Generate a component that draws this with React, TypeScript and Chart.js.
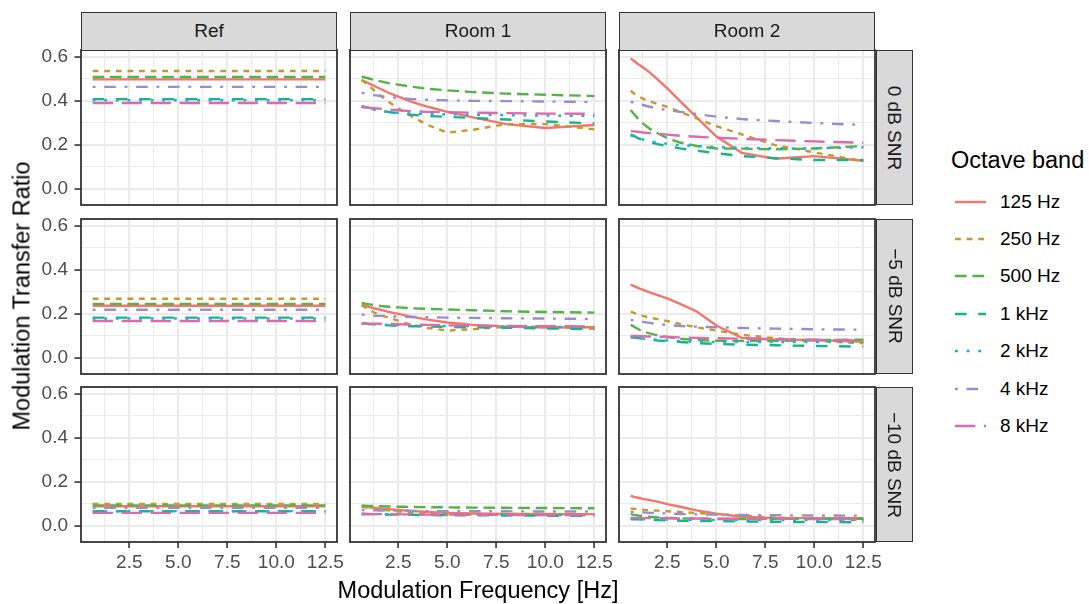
import React, { useEffect, useRef } from "react";
import { Chart, registerables } from "chart.js";
Chart.register(...registerables);

// ---------- data ----------
const FREQS = [0.63, 0.8, 1, 1.25, 1.6, 2, 2.5, 3.15, 4, 5, 6.3, 8, 10, 12.5];
const BANDS = ["125 Hz", "250 Hz", "500 Hz", "1 kHz", "2 kHz", "4 kHz", "8 kHz"];
const ROOMS = ["Ref", "Room 1", "Room 2"];
const SNRS = ["0 dB SNR", "\u22125 dB SNR", "\u221210 dB SNR"];
const X_TICKS = [2.5, 5, 7.5, 10, 12.5];
const X_MINOR = [1.25, 3.75, 6.25, 8.75, 11.25];
const Y_TICKS = [0, 0.2, 0.4, 0.6];
const Y_MINOR = [0.1, 0.3, 0.5];

const REF_0DB = [
  [0.498, 0.498, 0.498, 0.498, 0.498, 0.498, 0.498, 0.498, 0.498, 0.498, 0.498, 0.498, 0.498, 0.498],
  [0.536, 0.536, 0.536, 0.536, 0.536, 0.536, 0.536, 0.536, 0.536, 0.536, 0.536, 0.536, 0.536, 0.536],
  [0.509, 0.509, 0.509, 0.509, 0.509, 0.509, 0.509, 0.509, 0.509, 0.509, 0.509, 0.509, 0.509, 0.509],
  [0.408, 0.408, 0.408, 0.408, 0.408, 0.408, 0.408, 0.408, 0.408, 0.408, 0.408, 0.408, 0.408, 0.408],
  [0.403, 0.403, 0.403, 0.403, 0.403, 0.403, 0.403, 0.403, 0.403, 0.403, 0.403, 0.403, 0.403, 0.403],
  [0.464, 0.464, 0.464, 0.464, 0.464, 0.464, 0.464, 0.464, 0.464, 0.464, 0.464, 0.464, 0.464, 0.464],
  [0.390, 0.390, 0.390, 0.390, 0.390, 0.390, 0.390, 0.390, 0.390, 0.390, 0.390, 0.390, 0.390, 0.390],
];
const REF_M5DB = [
  [0.236, 0.236, 0.236, 0.236, 0.236, 0.236, 0.236, 0.236, 0.236, 0.236, 0.236, 0.236, 0.236, 0.236],
  [0.268, 0.268, 0.268, 0.268, 0.268, 0.268, 0.268, 0.268, 0.268, 0.268, 0.268, 0.268, 0.268, 0.268],
  [0.245, 0.245, 0.245, 0.245, 0.245, 0.245, 0.245, 0.245, 0.245, 0.245, 0.245, 0.245, 0.245, 0.245],
  [0.182, 0.182, 0.182, 0.182, 0.182, 0.182, 0.182, 0.182, 0.182, 0.182, 0.182, 0.182, 0.182, 0.182],
  [0.178, 0.178, 0.178, 0.178, 0.178, 0.178, 0.178, 0.178, 0.178, 0.178, 0.178, 0.178, 0.178, 0.178],
  [0.218, 0.218, 0.218, 0.218, 0.218, 0.218, 0.218, 0.218, 0.218, 0.218, 0.218, 0.218, 0.218, 0.218],
  [0.167, 0.167, 0.167, 0.167, 0.167, 0.167, 0.167, 0.167, 0.167, 0.167, 0.167, 0.167, 0.167, 0.167],
];
const REF_M10DB = [
  [0.088, 0.088, 0.088, 0.088, 0.088, 0.088, 0.088, 0.088, 0.088, 0.088, 0.088, 0.088, 0.088, 0.088],
  [0.099, 0.099, 0.099, 0.099, 0.099, 0.099, 0.099, 0.099, 0.099, 0.099, 0.099, 0.099, 0.099, 0.099],
  [0.092, 0.092, 0.092, 0.092, 0.092, 0.092, 0.092, 0.092, 0.092, 0.092, 0.092, 0.092, 0.092, 0.092],
  [0.065, 0.065, 0.065, 0.065, 0.065, 0.065, 0.065, 0.065, 0.065, 0.065, 0.065, 0.065, 0.065, 0.065],
  [0.066, 0.066, 0.066, 0.066, 0.066, 0.066, 0.066, 0.066, 0.066, 0.066, 0.066, 0.066, 0.066, 0.066],
  [0.081, 0.081, 0.081, 0.081, 0.081, 0.081, 0.081, 0.081, 0.081, 0.081, 0.081, 0.081, 0.081, 0.081],
  [0.058, 0.058, 0.058, 0.058, 0.058, 0.058, 0.058, 0.058, 0.058, 0.058, 0.058, 0.058, 0.058, 0.058],
];

const ROOM1_0DB = [
  [0.495, 0.488, 0.480, 0.469, 0.454, 0.437, 0.419, 0.396, 0.373, 0.350, 0.325, 0.294, 0.276, 0.290],
  [0.497, 0.483, 0.469, 0.449, 0.423, 0.396, 0.366, 0.331, 0.290, 0.255, 0.268, 0.294, 0.294, 0.270],
  [0.510, 0.507, 0.502, 0.496, 0.489, 0.481, 0.474, 0.465, 0.455, 0.448, 0.440, 0.433, 0.428, 0.422],
  [0.376, 0.372, 0.368, 0.362, 0.355, 0.349, 0.343, 0.337, 0.331, 0.327, 0.322, 0.315, 0.306, 0.297],
  [0.373, 0.370, 0.366, 0.360, 0.354, 0.349, 0.345, 0.342, 0.340, 0.339, 0.337, 0.335, 0.333, 0.331],
  [0.437, 0.434, 0.431, 0.426, 0.422, 0.417, 0.413, 0.408, 0.405, 0.402, 0.400, 0.399, 0.397, 0.395],
  [0.372, 0.371, 0.369, 0.367, 0.364, 0.360, 0.357, 0.353, 0.350, 0.348, 0.346, 0.344, 0.342, 0.341],
];
const ROOM1_M5DB = [
  [0.240, 0.235, 0.231, 0.225, 0.218, 0.208, 0.199, 0.187, 0.173, 0.160, 0.149, 0.141, 0.137, 0.138],
  [0.240, 0.229, 0.219, 0.206, 0.194, 0.182, 0.168, 0.150, 0.135, 0.123, 0.129, 0.141, 0.141, 0.131],
  [0.249, 0.246, 0.243, 0.240, 0.235, 0.232, 0.229, 0.225, 0.222, 0.219, 0.216, 0.211, 0.208, 0.205],
  [0.156, 0.155, 0.153, 0.151, 0.149, 0.147, 0.145, 0.143, 0.142, 0.140, 0.138, 0.136, 0.133, 0.129],
  [0.156, 0.155, 0.154, 0.152, 0.150, 0.149, 0.148, 0.146, 0.145, 0.144, 0.143, 0.141, 0.140, 0.139],
  [0.196, 0.195, 0.193, 0.191, 0.190, 0.188, 0.187, 0.185, 0.184, 0.182, 0.181, 0.179, 0.178, 0.176],
  [0.156, 0.156, 0.155, 0.155, 0.154, 0.153, 0.152, 0.150, 0.149, 0.147, 0.146, 0.144, 0.143, 0.142],
];
const ROOM1_M10DB = [
  [0.086, 0.085, 0.083, 0.081, 0.078, 0.075, 0.071, 0.067, 0.062, 0.058, 0.055, 0.053, 0.052, 0.052],
  [0.086, 0.083, 0.080, 0.077, 0.073, 0.069, 0.064, 0.058, 0.052, 0.048, 0.050, 0.053, 0.053, 0.051],
  [0.092, 0.091, 0.090, 0.089, 0.088, 0.087, 0.086, 0.085, 0.084, 0.083, 0.082, 0.081, 0.080, 0.079],
  [0.053, 0.053, 0.052, 0.052, 0.051, 0.050, 0.050, 0.049, 0.048, 0.047, 0.047, 0.046, 0.045, 0.044],
  [0.053, 0.053, 0.053, 0.052, 0.052, 0.051, 0.051, 0.050, 0.050, 0.049, 0.049, 0.049, 0.048, 0.048],
  [0.071, 0.071, 0.070, 0.070, 0.069, 0.068, 0.068, 0.067, 0.066, 0.066, 0.065, 0.065, 0.064, 0.064],
  [0.053, 0.053, 0.053, 0.052, 0.052, 0.052, 0.051, 0.051, 0.050, 0.050, 0.049, 0.049, 0.048, 0.048],
];

const ROOM2_0DB = [
  [0.594, 0.582, 0.568, 0.553, 0.530, 0.498, 0.457, 0.399, 0.325, 0.237, 0.163, 0.136, 0.148, 0.127],
  [0.446, 0.434, 0.422, 0.410, 0.398, 0.386, 0.373, 0.350, 0.320, 0.285, 0.247, 0.198, 0.165, 0.125],
  [0.358, 0.340, 0.319, 0.297, 0.273, 0.252, 0.230, 0.210, 0.194, 0.183, 0.182, 0.179, 0.183, 0.194],
  [0.247, 0.240, 0.230, 0.221, 0.212, 0.203, 0.194, 0.183, 0.173, 0.161, 0.148, 0.139, 0.130, 0.130],
  [0.244, 0.236, 0.230, 0.224, 0.216, 0.210, 0.204, 0.198, 0.194, 0.189, 0.186, 0.183, 0.183, 0.188],
  [0.396, 0.392, 0.387, 0.381, 0.373, 0.366, 0.358, 0.350, 0.340, 0.328, 0.317, 0.308, 0.299, 0.290],
  [0.262, 0.261, 0.259, 0.256, 0.253, 0.250, 0.246, 0.241, 0.236, 0.232, 0.227, 0.221, 0.215, 0.209],
];
const ROOM2_M5DB = [
  [0.333, 0.326, 0.318, 0.309, 0.297, 0.285, 0.270, 0.245, 0.210, 0.146, 0.090, 0.082, 0.080, 0.072],
  [0.210, 0.204, 0.198, 0.190, 0.182, 0.175, 0.166, 0.153, 0.138, 0.123, 0.104, 0.088, 0.077, 0.065],
  [0.150, 0.141, 0.130, 0.119, 0.110, 0.101, 0.094, 0.086, 0.080, 0.077, 0.076, 0.076, 0.079, 0.082],
  [0.093, 0.091, 0.089, 0.086, 0.082, 0.078, 0.075, 0.071, 0.066, 0.062, 0.059, 0.056, 0.053, 0.050],
  [0.093, 0.091, 0.089, 0.087, 0.084, 0.081, 0.078, 0.075, 0.072, 0.071, 0.071, 0.071, 0.071, 0.072],
  [0.172, 0.169, 0.166, 0.163, 0.158, 0.153, 0.149, 0.144, 0.141, 0.138, 0.135, 0.132, 0.129, 0.127],
  [0.099, 0.099, 0.098, 0.097, 0.096, 0.095, 0.094, 0.092, 0.090, 0.088, 0.086, 0.084, 0.081, 0.078],
];
const ROOM2_M10DB = [
  [0.136, 0.131, 0.127, 0.122, 0.116, 0.109, 0.098, 0.086, 0.069, 0.054, 0.040, 0.034, 0.034, 0.033],
  [0.078, 0.076, 0.074, 0.072, 0.070, 0.068, 0.065, 0.062, 0.057, 0.052, 0.045, 0.037, 0.031, 0.025],
  [0.052, 0.049, 0.046, 0.043, 0.040, 0.037, 0.035, 0.033, 0.031, 0.030, 0.030, 0.030, 0.031, 0.031],
  [0.030, 0.029, 0.028, 0.027, 0.026, 0.025, 0.024, 0.022, 0.021, 0.020, 0.019, 0.017, 0.016, 0.015],
  [0.030, 0.030, 0.029, 0.029, 0.028, 0.028, 0.027, 0.027, 0.026, 0.026, 0.026, 0.025, 0.025, 0.025],
  [0.063, 0.062, 0.061, 0.060, 0.058, 0.057, 0.055, 0.053, 0.051, 0.050, 0.048, 0.047, 0.046, 0.045],
  [0.035, 0.035, 0.034, 0.034, 0.034, 0.033, 0.033, 0.032, 0.032, 0.031, 0.031, 0.031, 0.030, 0.030],
];

// rows = SNR, cols = room
const PANELS = [
  [REF_0DB, ROOM1_0DB, ROOM2_0DB],
  [REF_M5DB, ROOM1_M5DB, ROOM2_M5DB],
  [REF_M10DB, ROOM1_M10DB, ROOM2_M10DB],
];

// ---------- styles ----------
const COLORS = ["#F5756C", "#C6992B", "#52B346", "#18B38A", "#12B2E2", "#9D8CCB", "#DB6BAD"];
const U = 2.9;
const DASHES = [[], [2 * U, 2 * U], [4 * U, 2 * U], [4 * U, 4 * U], [1 * U, 3 * U], [1 * U, 3 * U, 4 * U, 3 * U], [7 * U, 3 * U]];
const LINE_W = 2.4;
const FONT = "'Liberation Sans', Arial, Helvetica, sans-serif";
const SMALL = 19;
const BIG = 23.5;

const X_MIN = 0.036, X_MAX = 13.094;
const Y_MIN = -0.075, Y_MAX = 0.632;

const COL_LEFT = [81, 350, 619];
const ROW_TOP = [50, 218.5, 387];
const PW = 256;
const PH = 155;

const near = (a: number, list: number[]) => list.some((t) => Math.abs(t - a) < 1e-9);

const borderPlugin = {
  id: "panelBorder",
  afterDraw(chart: any) {
    const { ctx, chartArea: a } = chart;
    ctx.save();
    ctx.strokeStyle = "#333333";
    ctx.lineWidth = 1.8;
    ctx.strokeRect(a.left, a.top, a.right - a.left, a.bottom - a.top);
    ctx.restore();
  },
};

function Panel({ row, col }: { row: number; col: number }) {
  const ref = useRef<HTMLCanvasElement>(null);
  const ML = col === 0 ? 80 : 2;
  const MB = row === 2 ? 42 : 2;
  const MT = 2;
  const MR = 14;
  const W = ML + PW + MR;
  const H = MT + PH + MB;
  useEffect(() => {
    if (!ref.current) return;
    const data = PANELS[row][col];
    const chart = new Chart(ref.current, {
      type: "line",
      data: {
        datasets: BANDS.map((b, i) => ({
          label: b,
          data: FREQS.map((x, j) => ({ x, y: data[i][j] })),
          borderColor: COLORS[i],
          backgroundColor: COLORS[i],
          borderWidth: LINE_W,
          borderDash: DASHES[i],
          borderCapStyle: "butt",
          pointRadius: 0,
          fill: false,
          tension: 0,
          order: BANDS.length - i,
        })),
      },
      options: {
        animation: false,
        responsive: false,
        maintainAspectRatio: false,
        devicePixelRatio: 1,
        events: [],
        layout: { padding: { left: 0, top: MT, right: MR, bottom: 0 } },
        plugins: { legend: { display: false }, tooltip: { enabled: false } },
        scales: {
          x: {
            type: "linear",
            min: X_MIN,
            max: X_MAX,
            afterBuildTicks: (s: any) => {
              s.ticks = [...X_MINOR, ...X_TICKS].sort((a, b) => a - b).map((v) => ({ value: v }));
            },
            afterFit: (s: any) => {
              s.height = MB;
              s.paddingLeft = 0;
              s.paddingRight = 0;
            },
            border: { display: false },
            grid: {
              color: "#EBEBEB",
              lineWidth: (c: any) => (c.tick && near(c.tick.value, X_TICKS) ? 2.1 : 1.05),
              drawTicks: row === 2,
              tickLength: 6,
              tickWidth: 1.6,
              tickColor: (c: any) => (c.tick && near(c.tick.value, X_TICKS) ? "#333333" : "rgba(0,0,0,0)"),
            },
            ticks: {
              display: row === 2,
              autoSkip: false,
              maxRotation: 0,
              minRotation: 0,
              padding: 3,
              color: "#4D4D4D",
              font: { family: FONT, size: SMALL },
              callback: (v: any) => (near(Number(v), X_TICKS) ? Number(v).toFixed(1) : ""),
            },
          },
          y: {
            type: "linear",
            min: Y_MIN,
            max: Y_MAX,
            afterBuildTicks: (s: any) => {
              s.ticks = [...Y_MINOR, ...Y_TICKS].sort((a, b) => a - b).map((v) => ({ value: v }));
            },
            afterFit: (s: any) => {
              s.width = ML;
              s.paddingTop = 0;
              s.paddingBottom = 0;
            },
            border: { display: false },
            grid: {
              color: "#EBEBEB",
              lineWidth: (c: any) => (c.tick && near(c.tick.value, Y_TICKS) ? 2.1 : 1.05),
              drawTicks: col === 0,
              tickLength: 6.5,
              tickWidth: 1.6,
              tickColor: (c: any) => (c.tick && near(c.tick.value, Y_TICKS) ? "#333333" : "rgba(0,0,0,0)"),
            },
            ticks: {
              display: col === 0,
              autoSkip: false,
              padding: 6.5,
              color: "#4D4D4D",
              font: { family: FONT, size: SMALL },
              callback: (v: any) => (near(Number(v), Y_TICKS) ? Number(v).toFixed(1) : ""),
            },
          },
        },
      },
      plugins: [borderPlugin],
    } as any);
    return () => chart.destroy();
  }, []);
  return (
    <canvas
      ref={ref}
      width={W}
      height={H}
      style={{ position: "absolute", left: COL_LEFT[col] - ML, top: ROW_TOP[row] - MT, width: W, height: H }}
    />
  );
}

const stripStyle: React.CSSProperties = {
  position: "absolute",
  boxSizing: "border-box",
  background: "#D9D9D9",
  border: "1.8px solid #333333",
  display: "flex",
  alignItems: "center",
  justifyContent: "center",
  color: "#1A1A1A",
  fontFamily: FONT,
  fontSize: SMALL,
  whiteSpace: "nowrap",
};

function LegendKey({ i }: { i: number }) {
  return (
    <svg width={32} height={10} style={{ position: "absolute", left: 955, top: 201.5 + i * 37.4 - 5 }}>
      <line
        x1={0}
        y1={5}
        x2={31}
        y2={5}
        stroke={COLORS[i]}
        strokeWidth={LINE_W}
        strokeDasharray={DASHES[i].length ? DASHES[i].join(" ") : undefined}
      />
    </svg>
  );
}

export default function App() {
  const cells: any[] = [];
  for (let r = 0; r < 3; r++) for (let c = 0; c < 3; c++) cells.push(<Panel key={`${r}-${c}`} row={r} col={c} />);
  return (
    <div style={{ position: "absolute", left: 0, top: 0, width: 1089, height: 604, background: "#FFFFFF", overflow: "hidden" }}>
      {cells}
      {ROOMS.map((name, c) => (
        <div key={name} style={{ ...stripStyle, left: COL_LEFT[c], top: 12, width: PW, height: 38.5 }}>
          {name}
        </div>
      ))}
      {SNRS.map((name, r) => (
        <div key={name} style={{ ...stripStyle, left: COL_LEFT[2] + PW + 1, top: ROW_TOP[r], width: 37, height: PH }}>
          <span style={{ display: "inline-block", transform: "rotate(90deg)" }}>{name}</span>
        </div>
      ))}
      <div
        style={{
          position: "absolute",
          left: 22,
          top: 296,
          transform: "translate(-50%, -50%) rotate(-90deg)",
          fontFamily: FONT,
          fontSize: BIG,
          color: "#000000",
          whiteSpace: "nowrap",
        }}
      >
        Modulation Transfer Ratio
      </div>
      <div
        style={{
          position: "absolute",
          left: 478,
          top: 590,
          transform: "translate(-50%, -50%)",
          fontFamily: FONT,
          fontSize: BIG,
          color: "#000000",
          whiteSpace: "nowrap",
        }}
      >
        Modulation Frequency [Hz]
      </div>
      <div
        style={{
          position: "absolute",
          left: 951,
          top: 160,
          transform: "translateY(-50%)",
          fontFamily: FONT,
          fontSize: BIG,
          color: "#000000",
          whiteSpace: "nowrap",
        }}
      >
        Octave band
      </div>
      {BANDS.map((b, i) => (
        <React.Fragment key={b}>
          <LegendKey i={i} />
          <div
            style={{
              position: "absolute",
              left: 1000,
              top: 201.5 + i * 37.4,
              transform: "translateY(-50%)",
              fontFamily: FONT,
              fontSize: SMALL,
              color: "#000000",
              whiteSpace: "nowrap",
            }}
          >
            {b}
          </div>
        </React.Fragment>
      ))}
    </div>
  );
}
